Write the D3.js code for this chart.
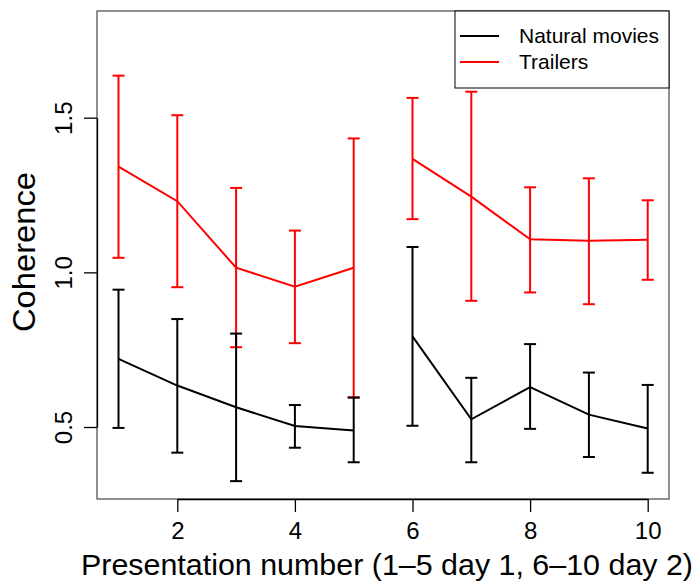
<!DOCTYPE html>
<html>
<head>
<meta charset="utf-8">
<script src="https://cdn.jsdelivr.net/npm/d3@7"></script>
<style>
  body { margin: 0; background: #fff; }
  text { font-family: "Liberation Sans", Arial, sans-serif; }
</style>
</head>
<body>
<div id="chart"></div>
<script>
// presentation numbers
var presentations = [1, 2, 3, 4, 5, 6, 7, 8, 9, 10];

// natural movies: mean and error bar ends
var naturalMean  = [0.720, 0.634, 0.564, 0.503, 0.489, 0.793, 0.525, 0.629, 0.540, 0.495];
var naturalUpper = [0.944, 0.849, 0.802, 0.571, 0.595, 1.082, 0.659, 0.768, 0.676, 0.636];
var naturalLower = [0.497, 0.417, 0.325, 0.433, 0.386, 0.504, 0.386, 0.494, 0.403, 0.352];

// trailers
var trailerMean  = [1.342, 1.230, 1.015, 0.954, 1.015, 1.367, 1.245, 1.107, 1.102, 1.105];
var trailerUpper = [1.636, 1.508, 1.273, 1.135, 1.433, 1.564, 1.584, 1.275, 1.304, 1.233];
var trailerLower = [1.047, 0.952, 0.758, 0.771, 0.596, 1.172, 0.908, 0.935, 0.897, 0.976];

var xTicks = [2, 4, 6, 8, 10];
var yTicks = [0.5, 1.0, 1.5];

var svgWidth = 698;
var svgHeight = 587;

// plot region box
var box = { left: 97, top: 11, right: 669, bottom: 499 };

var svg = d3.select("#chart")
  .append("svg")
  .attr("width", svgWidth)
  .attr("height", svgHeight);

var xScale = d3.scaleLinear()
  .domain([2, 10])
  .range([177.3, 647.7]);

var yScale = d3.scaleLinear()
  .domain([0.5, 1.5])
  .range([427, 117.7]);

// box around plot
svg.append("rect")
  .attr("x", box.left)
  .attr("y", box.top)
  .attr("width", box.right - box.left)
  .attr("height", box.bottom - box.top)
  .attr("fill", "none")
  .attr("stroke", "#555")
  .attr("stroke-width", 1.3);

// x axis
var xAxis = svg.append("g")
  .attr("transform", `translate(0, ${box.bottom})`)
  .call(d3.axisBottom(xScale).tickValues(xTicks).tickSize(13).tickPadding(10).tickSizeOuter(0));

// y axis
var yAxis = svg.append("g")
  .attr("transform", `translate(${box.left}, 0)`)
  .call(d3.axisLeft(yScale).tickValues(yTicks).tickSize(13).tickFormat(d3.format(".1f")).tickSizeOuter(0));

[xAxis, yAxis].forEach(function(ax) {
  ax.attr("font-size", null).attr("font-family", null);
  ax.select(".domain").attr("stroke", "#000").attr("stroke-width", 1.3);
  ax.selectAll(".tick line").attr("stroke", "#000").attr("stroke-width", 1.3);
  ax.selectAll("text")
    .style("font-size", "24px")
    .attr("fill", "#000");
});

// rotate y tick labels like R's default
yAxis.selectAll(".tick text")
  .attr("transform", "rotate(-90)")
  .attr("x", 0)
  .attr("y", -33)
  .attr("dy", "0.35em")
  .attr("text-anchor", "middle");

// draw one series with error bars
function drawSeries(mean, upper, lower, colour) {
  var g = svg.append("g");

  // two separate segments: day 1 and day 2
  [[0, 5], [5, 10]].forEach(function(r) {
    var part = mean.slice(r[0], r[1]);
    var xs = presentations.slice(r[0], r[1]);
    g.append("path")
      .datum(part)
      .attr("d", d3.line().x((d, i) => xScale(xs[i])).y(d => yScale(d)))
      .attr("fill", "none")
      .attr("stroke", colour)
      .attr("stroke-width", 2);
  });

  presentations.forEach(function(p, i) {
    var cx = xScale(p);
    g.append("line")
      .attr("x1", cx).attr("x2", cx)
      .attr("y1", yScale(lower[i])).attr("y2", yScale(upper[i]))
      .attr("stroke", colour).attr("stroke-width", 2);
    [upper[i], lower[i]].forEach(function(v) {
      g.append("line")
        .attr("x1", cx - 6).attr("x2", cx + 6)
        .attr("y1", yScale(v)).attr("y2", yScale(v))
        .attr("stroke", colour).attr("stroke-width", 2);
    });
  });
}

drawSeries(trailerMean, trailerUpper, trailerLower, "#ff0000");
drawSeries(naturalMean, naturalUpper, naturalLower, "#000000");

// axis titles
svg.append("text")
  .attr("x", 387)
  .attr("y", 575)
  .attr("text-anchor", "middle")
  .style("font-size", "30px")
  .attr("textLength", 612)
  .attr("lengthAdjust", "spacingAndGlyphs")
  .text("Presentation number (1\u20135 day 1, 6\u201310 day 2)");

svg.append("text")
  .attr("transform", "translate(35, 252) rotate(-90)")
  .attr("text-anchor", "middle")
  .style("font-size", "32px")
  .attr("textLength", 160)
  .attr("lengthAdjust", "spacingAndGlyphs")
  .text("Coherence");

// legend
var legend = svg.append("g");
legend.append("rect")
  .attr("x", 455)
  .attr("y", box.top)
  .attr("width", box.right - 455)
  .attr("height", 77)
  .attr("fill", "#fff")
  .attr("stroke", "#000")
  .attr("stroke-width", 1);

var legendItems = [
  { label: "Natural movies", colour: "#000000" },
  { label: "Trailers", colour: "#ff0000" }
];

legendItems.forEach(function(item, i) {
  var y = 36 + i * 26;
  legend.append("line")
    .attr("x1", 460).attr("x2", 499)
    .attr("y1", y).attr("y2", y)
    .attr("stroke", item.colour).attr("stroke-width", 2);
  legend.append("text")
    .attr("x", 519)
    .attr("y", y)
    .attr("dy", "0.35em")
    .style("font-size", "21px")
    .text(item.label);
});
</script>
</body>
</html>
